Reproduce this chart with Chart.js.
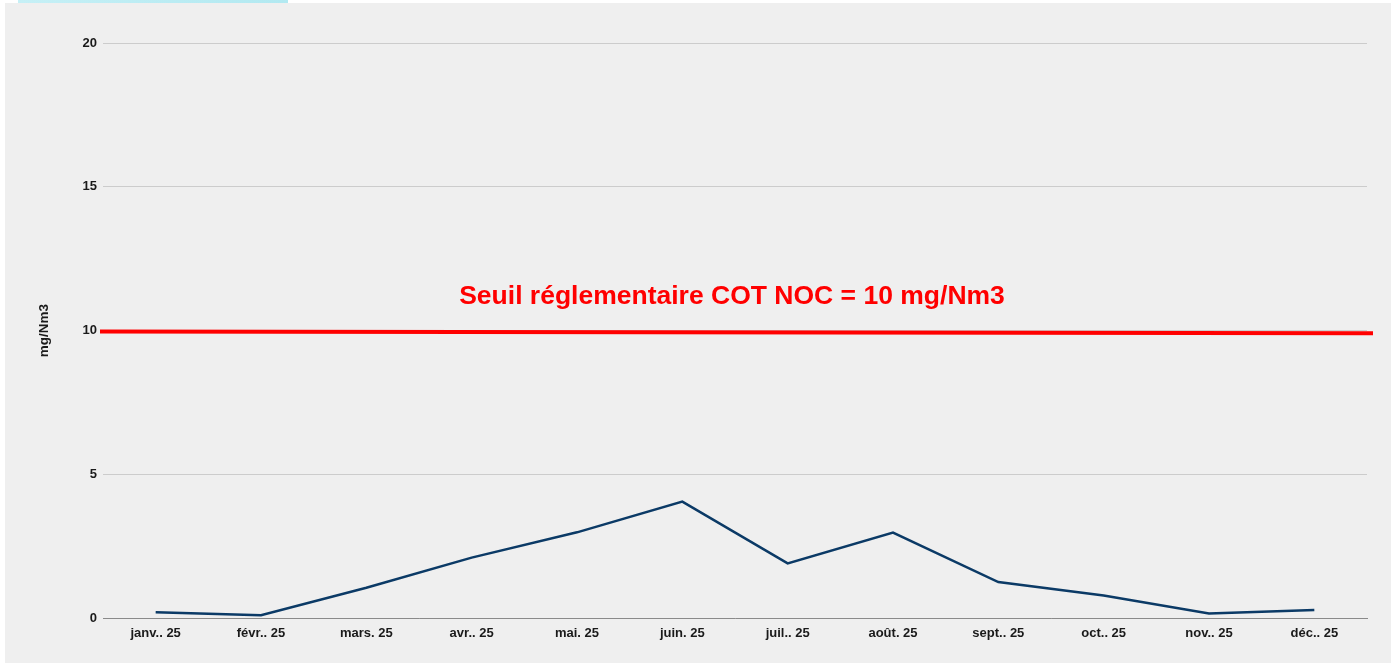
<!DOCTYPE html>
<html>
<head>
<meta charset="utf-8">
<script src="https://cdn.jsdelivr.net/npm/chart.js@4"></script>
<style>
    body { margin: 0; background: #ffffff; width: 1391px; height: 667px; overflow: hidden; position: relative; }
    .top-bar { position: absolute; left: 18px; top: 0; width: 270px; height: 3px; background: linear-gradient(90deg, #c6f0f6, #b2e9f1); }
    .chart-box { position: absolute; left: 5px; top: 3px; width: 1386px; height: 660px; background: #efefef; }
    #graph { display: block; }
</style>
</head>
<body>
<div class="top-bar"></div>
<div class="chart-box"><canvas id="graph" width="1386" height="660"></canvas></div>
<script>
const months = ['janv.. 25', 'févr.. 25', 'mars. 25', 'avr.. 25', 'mai. 25', 'juin. 25',
                'juil.. 25', 'août. 25', 'sept.. 25', 'oct.. 25', 'nov.. 25', 'déc.. 25'];
const cotValues = [0.2, 0.1, 1.05, 2.1, 2.98, 4.05, 1.9, 2.97, 1.25, 0.78, 0.16, 0.28];
const yTicks = [0, 5, 10, 15, 20];
const threshold = [10, 9.94]; // left end, right end of the red line
const thresholdLabel = 'Seuil réglementaire COT NOC = 10 mg/Nm3';

const graph = document.getElementById('graph').getContext('2d');

// red regulatory limit line + its label
const seuilPlugin = {
    id: 'seuil',
    afterDatasetsDraw(chart) {
        const ctx = chart.ctx;
        const area = chart.chartArea;
        const y = chart.scales.y;
        ctx.save();
        ctx.strokeStyle = '#ff0000';
        ctx.lineWidth = 4;
        ctx.beginPath();
        ctx.moveTo(area.left - 3, y.getPixelForValue(threshold[0]) + 1);
        ctx.lineTo(area.right + 6, y.getPixelForValue(threshold[1]) + 1);
        ctx.stroke();
        ctx.fillStyle = '#ff0000';
        ctx.font = 'bold 26.5px "Liberation Sans", Arial, sans-serif';
        ctx.textAlign = 'center';
        ctx.textBaseline = 'middle';
        ctx.fillText(thresholdLabel, (area.left + area.right) / 2 - 3, y.getPixelForValue(threshold[0]) - 34);
        ctx.restore();
    }
};

Chart.defaults.font.family = '"Liberation Sans", Arial, sans-serif';
Chart.defaults.color = '#1a1a1a';

new Chart(graph, {
    type: 'line',
    data: {
        labels: months,
        datasets: [{
            label: 'COT NOC',
            data: cotValues,
            borderColor: '#0b3a66',
            borderWidth: 2.5,
            pointRadius: 0,
            tension: 0,
            fill: false
        }]
    },
    options: {
        responsive: false,
        animation: false,
        devicePixelRatio: 1,
        layout: { padding: { top: 40, right: 24, bottom: 0, left: 0 } },
        plugins: {
            legend: { display: false },
            tooltip: { enabled: false }
        },
        scales: {
            x: {
                offset: true,
                grid: { display: false, drawTicks: false },
                border: { display: true, color: '#8a8a8a', width: 1 },
                ticks: { font: { size: 13, weight: 'bold' }, padding: 8, maxRotation: 0, autoSkip: false },
                afterFit(scale) { scale.height = 45; }
            },
            y: {
                min: 0,
                max: 20,
                afterBuildTicks(scale) { scale.ticks = yTicks.map(v => ({ value: v })); },
                grid: { color: '#cccccc', lineWidth: 1, drawTicks: false },
                border: { display: false },
                ticks: { font: { size: 13, weight: 'bold' }, padding: 6 },
                title: {
                    display: true,
                    text: 'mg/Nm3',
                    font: { size: 13.5, weight: 'bold' },
                    padding: { top: 31, bottom: 0 }
                },
                afterFit(scale) { scale.width = 98; }
            }
        }
    },
    plugins: [seuilPlugin]
});
</script>
</body>
</html>
